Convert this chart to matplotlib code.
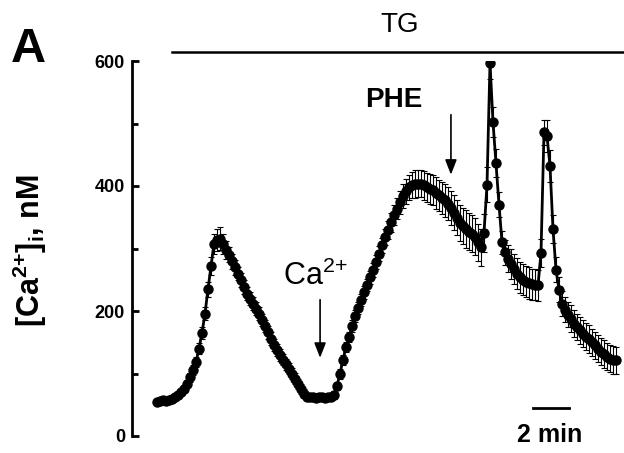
import numpy as np
import matplotlib
matplotlib.use("Agg")
import matplotlib.pyplot as plt

plt.rcParams['font.family'] = 'Liberation Sans'
plt.rcParams['mathtext.fontset'] = 'custom'
plt.rcParams['mathtext.rm'] = 'Liberation Sans'
plt.rcParams['mathtext.it'] = 'Liberation Sans:italic'
plt.rcParams['mathtext.bf'] = 'Liberation Sans:bold'

# sampling interval (min)
dt = 1 / 6

# mean [Ca2+]i, nM
ca_mean = [55, 56, 57, 56, 58, 59, 63, 66, 70, 76,
           84, 94, 105, 118, 140, 165, 196, 235, 272, 308,
           314, 316, 308, 298, 290, 280, 270, 260, 250, 238,
           228, 220, 212, 204, 196, 186, 176, 166, 156, 146,
           138, 130, 122, 115, 108, 100, 92, 84, 76, 68,
           63, 62, 62, 61, 62, 62, 61, 62, 63, 66,
           80, 100, 122, 142, 158, 176, 192, 205, 218, 230,
           242, 254, 266, 278, 292, 305, 318, 330, 342, 354,
           364, 374, 384, 392, 398, 402, 403, 404, 404, 401,
           398, 396, 393, 389, 385, 381, 377, 372, 365, 357,
           349, 341, 336, 331, 327, 324, 319, 310, 302, 325,
           402, 597, 502, 437, 370, 310, 294, 284, 275, 267,
           260, 254, 250, 247, 245, 243, 242, 241, 293, 486,
           480, 432, 331, 266, 234, 212, 202, 194, 188, 180,
           174, 169, 164, 159, 155, 150, 145, 140, 135, 131,
           127, 124, 122, 121]

# SEM
ca_sem = [4, 4, 4, 4, 4, 4, 5, 5, 5, 6,
          6, 7, 8, 8, 9, 10, 10, 12, 14, 16,
          18, 18, 16, 14, 12, 12, 12, 11, 11, 11,
          11, 11, 11, 11, 11, 10, 10, 10, 10, 10,
          10, 10, 9, 9, 9, 9, 9, 8, 8, 7,
          6, 5, 5, 5, 5, 5, 5, 5, 5, 6,
          7, 8, 8, 8, 8, 9, 9, 9, 10, 10,
          10, 10, 11, 11, 12, 12, 13, 14, 15, 16,
          17, 18, 19, 20, 20, 21, 22, 22, 22, 23,
          23, 24, 24, 25, 25, 26, 26, 27, 27, 28,
          28, 29, 29, 30, 30, 30, 30, 30, 30, 30,
          28, 25, 24, 22, 20, 18, 20, 22, 24, 24,
          25, 25, 25, 25, 25, 25, 25, 25, 22, 20,
          25, 25, 22, 20, 20, 20, 20, 20, 21, 21,
          21, 22, 22, 22, 22, 22, 22, 22, 22, 22,
          22, 22, 22, 22]

t = np.arange(len(ca_mean)) * dt

fig = plt.figure(figsize=(6.24, 4.53), dpi=100)
ax = fig.add_axes([132 / 624, 17 / 453, 492 / 624, 375 / 453])

ax.errorbar(t, ca_mean, yerr=ca_sem, fmt='o-', color='k', ms=6.5, lw=2,
            ecolor='k', elinewidth=0.8, capsize=2.5, capthick=0.8, zorder=3)

ax.set_xlim(-25 / 18, 467 / 18)
ax.set_ylim(0, 600)
for s in ['top', 'right', 'bottom']:
    ax.spines[s].set_visible(False)
ax.spines['left'].set_linewidth(2)
ax.set_xticks([])
ax.set_yticks([0, 200, 400, 600])
ax.set_yticks([100, 300, 500], minor=True)
ax.tick_params(axis='y', which='major', direction='in', length=5, width=2, pad=5,
               labelsize=13)
ax.tick_params(axis='y', which='minor', direction='in', length=4, width=2)
for lab in ax.get_yticklabels():
    lab.set_fontweight('bold')

# TG bar
ax.plot([0.83, 26], [614, 614], color='k', lw=1.8, clip_on=False)
ax.text(13.5, 658, 'TG', fontsize=20, ha='center', va='center')

# arrows
ax.annotate('', xy=(9.06, 125), xytext=(9.06, 218),
            arrowprops=dict(arrowstyle='-|>,head_length=0.9,head_width=0.35',
                            color='k', lw=1.2, shrinkA=0, shrinkB=0))
ax.text(8.78, 255, r'Ca$^{2{+}}$', fontsize=22, ha='center', va='center')
ax.annotate('', xy=(16.33, 418), xytext=(16.33, 514),
            arrowprops=dict(arrowstyle='-|>,head_length=0.9,head_width=0.35',
                            color='k', lw=1.2, shrinkA=0, shrinkB=0))
ax.text(13.17, 538, 'PHE', fontsize=20, fontweight='bold', ha='center', va='center')

# scale bar
ax.plot([20.9, 22.9], [45, 45], color='k', lw=2, clip_on=False)
ax.text(21.8, 1, '2 min', fontsize=18, fontweight='bold', ha='center', va='center')

fig.text(30 / 624, 1 - 251 / 453, r'[Ca$^{\mathbf{2{+}}}$]$_{\mathbf{i}}$, nM',
         rotation=90, fontsize=22, fontweight='bold', ha='center', va='center')
fig.text(28 / 624, 1 - 50 / 453, 'A', fontsize=35, fontweight='bold',
         ha='center', va='center')

fig.savefig('out.png', dpi=100)
